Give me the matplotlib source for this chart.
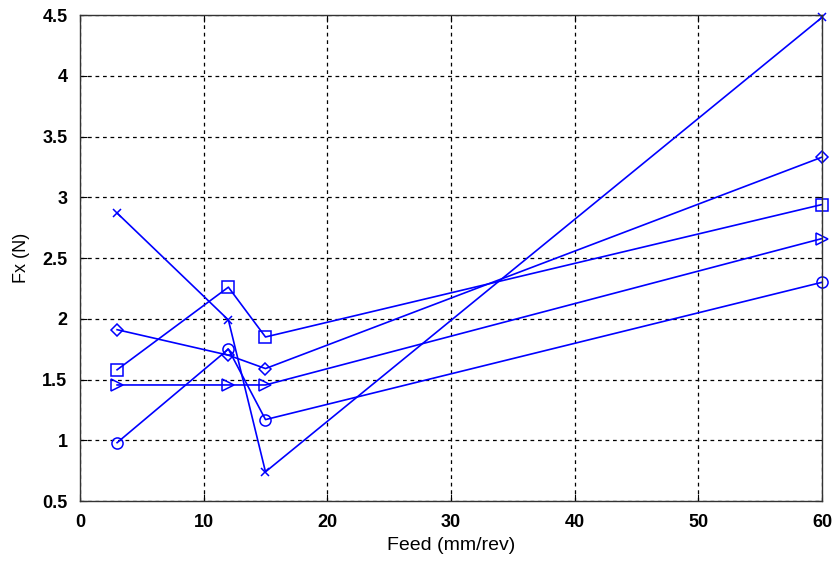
import matplotlib
matplotlib.use('Agg')
import matplotlib.pyplot as plt

feed = [3, 12, 15, 60]

fx_cross = [2.87, 1.99, 0.74, 4.48]
fx_diamond = [1.91, 1.70, 1.59, 3.33]
fx_square = [1.58, 2.26, 1.85, 2.94]
fx_triangle = [1.455, 1.455, 1.455, 2.66]
fx_circle = [0.98, 1.75, 1.17, 2.30]

plt.rcParams['font.family'] = ['Liberation Sans', 'DejaVu Sans']

fig = plt.figure(figsize=(8.35, 5.64), dpi=100)
ax = fig.add_axes([0.0958, 0.1117, 0.8886, 0.8617])

style = dict(color='blue', lw=1.2, mfc='none', mec='blue', mew=1.1, clip_on=False)
ax.plot(feed, fx_cross, marker='x', ms=6, **style)
ax.plot(feed, fx_diamond, marker='D', ms=6.5, **style)
ax.plot(feed, fx_square, marker='s', ms=8, **style)
ax.plot(feed, fx_triangle, marker='>', ms=8, **style)
ax.plot(feed, fx_circle, marker='o', ms=8, **style)

ax.set_xlim(0, 60)
ax.set_ylim(0.5, 4.5)
ax.set_xticks(range(0, 61, 10))
ax.set_yticks([0.5, 1, 1.5, 2, 2.5, 3, 3.5, 4, 4.5])
ax.set_yticklabels(['0.5', '1', '1.5', '2', '2.5', '3', '3.5', '4', '4.5'])
ax.grid(True, color='black', linestyle=(0, (3, 3)), linewidth=0.9)
ax.tick_params(direction='in', top=True, right=True, length=5, labelsize=13)
ax.tick_params(axis='x', pad=9)
ax.tick_params(axis='y', pad=9)
for lab in ax.get_xticklabels() + ax.get_yticklabels():
    lab.set_fontweight('bold')
for s in ax.spines.values():
    s.set_color('#333333')
    s.set_linewidth(1.0)

ax.set_xlabel('Feed (mm/rev)', fontsize=14, labelpad=5)
ax.set_ylabel('Fx (N)', fontsize=13, labelpad=9)

fig.savefig('out.png', dpi=100)
